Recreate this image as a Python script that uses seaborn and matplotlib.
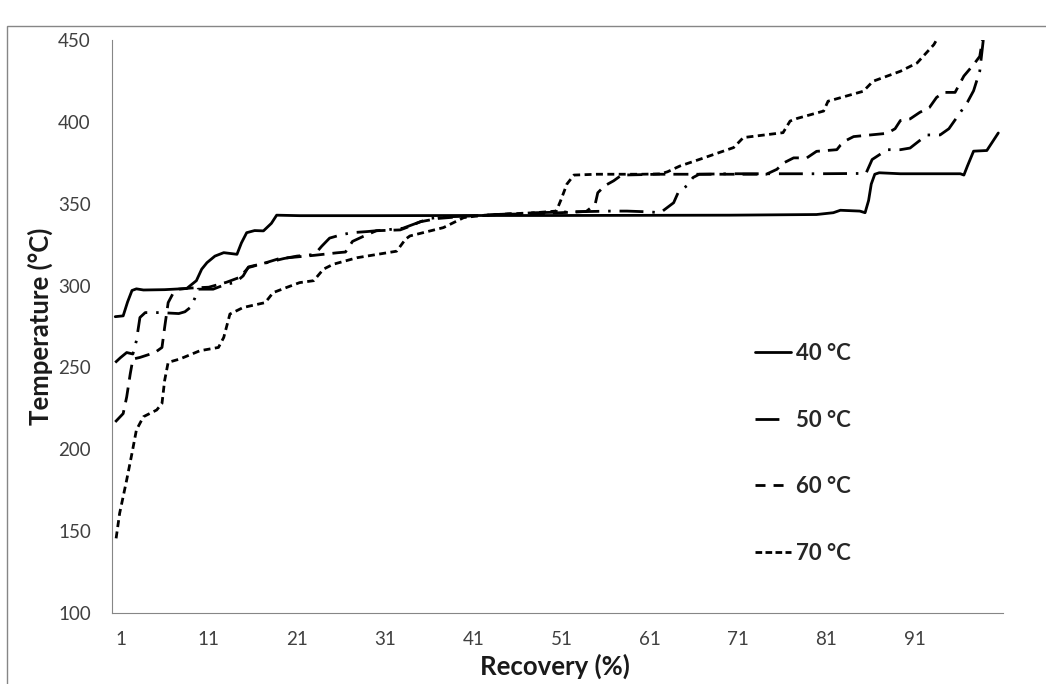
import pandas as pd
import matplotlib.pyplot as plt
import seaborn as sns
from matplotlib.patches import Rectangle
from matplotlib.lines import Line2D

sns.set_style("white")
plt.rcParams['font.family'] = ['Lato', 'DejaVu Sans']

# Readings: recovery position (category units) and temperature
x_40 = [0.4, 1.3, 1.8, 2.3, 2.8, 3.6, 6.0, 8.5, 9.6, 10.2, 10.8, 11.7, 12.7, 14.2, 14.7, 15.3,
        16.2, 17.2, 18.1, 18.7, 21.3, 30, 40, 50, 60, 70, 79.9, 81.8, 82.6, 84.8, 85.4, 85.8,
        86.1, 86.5, 87.0, 89.4, 96.2, 96.6, 97.0, 97.7, 99.2, 100.5]
t_40 = [281, 281.5, 290, 297, 298, 297.3, 297.5, 298.2, 303, 310, 314, 318, 320.1, 319.1, 326, 332.3,
        333.6, 333.4, 338, 343, 342.7, 342.7, 342.8, 342.8, 342.9, 343, 343.4, 344.5, 346, 345.5, 344.5, 352,
        362, 368, 368.9, 368.3, 368.3, 367.5, 373, 382.1, 382.5, 393.2]

x_50 = [0.4, 1.0, 1.7, 2.4, 2.8, 3.2, 3.8, 5.5, 7.6, 8.3, 8.9, 9.4, 9.8, 11.5, 13.0, 14.0,
        14.9, 15.5, 17.6, 19.5, 21.0, 23.0, 23.8, 24.7, 26.0, 27.2, 29, 31, 33, 34.5, 36, 38,
        41, 44, 48, 52, 56.5, 58.4, 61, 62.2, 63.7, 64.2, 65.2, 65.9, 66.6, 70, 75, 80,
        85.5, 86.2, 87.9, 89.4, 90.5, 92.4, 93.9, 94.9, 96.2, 97.0, 97.7, 98.4, 98.8]
t_50 = [253, 256, 259.1, 258.2, 266.3, 280.5, 283.5, 283.5, 282.9, 284, 286.6, 292, 297.8, 297.8, 300.9, 301.8,
        305.9, 311.4, 314, 316.5, 318, 319, 324, 329, 331, 332.3, 333, 334, 335, 338, 341, 342,
        342.5, 343.5, 344.5, 345, 345.5, 345.5, 345, 344.5, 350.6, 356.7, 361, 366, 368, 368.3, 368.3, 368.3,
        368.5, 377, 383, 383, 384, 392, 392, 395.8, 405.8, 412, 419, 431, 450]

x_60 = [0.4, 1.3, 1.7, 2.1, 2.4, 3.2, 4.9, 5.7, 6.0, 6.4, 7.0, 7.6, 9.0, 11.0, 13.0, 14.5,
        15.5, 17.5, 19.0, 21.0, 23.0, 25.5, 26.5, 27.3, 28.5, 30.0, 32.7, 33.4, 35, 37, 40, 44,
        49, 52.7, 53.8, 54.8, 55.1, 55.9, 56.9, 57.8, 62, 70, 74.2, 75.4, 76.2, 77.3, 78.8, 79.9,
        82.2, 82.6, 83.3, 84.1, 87.9, 88.8, 89.4, 90.5, 91.6, 92.7, 93.5, 94.3, 95.6, 96.2, 96.6,
        97.7, 98.4, 98.7]
t_60 = [216.7, 221.8, 232, 246, 255.1, 256.1, 259.1, 262.2, 274.4, 289.6, 295.7, 297.8, 298.5, 299, 302, 305,
        311, 314, 316.5, 317.5, 318.5, 320, 320.5, 327, 330, 333.5, 334, 335.4, 339, 341, 342.3, 343.5,
        344, 345, 345.3, 349.6, 356.7, 361, 364, 367.5, 368, 368, 368, 371, 375, 378, 378, 382,
        383, 385.7, 388.8, 391, 393, 395.8, 400.8, 401.8, 405.8, 408.8, 414.9, 418, 418, 424, 428,
        435, 440, 450]

x_70 = [0.5, 0.9, 1.7, 2.3, 2.8, 3.6, 5.1, 5.7, 6.0, 6.4, 7.7, 10.0, 12.1, 12.7, 13.4, 14.9,
        17.4, 18.3, 19.8, 21.3, 22.9, 24.0, 25.1, 27.8, 32.3, 33.3, 33.8, 37.6, 39.9, 41.4, 44, 48,
        50.4, 50.9, 51.6, 52.4, 55, 60, 62.2, 63.0, 64.4, 66.7, 70.5, 71.6, 76.1, 76.9, 77.7, 80.7,
        81.2, 85.2, 86.3, 89.4, 91.3, 93.2, 93.5]
t_70 = [145.6, 160.9, 181.3, 197.6, 211.8, 219.9, 224, 228, 242, 253.1, 255.1, 260.2, 262.2, 268.3, 282.6, 286.6,
        289.6, 295.7, 298.8, 301.8, 303, 310, 313, 317, 321, 328.3, 330.3, 335.4, 341.5, 342.5, 343.5, 344.5,
        345.5, 352, 362, 367.5, 368, 368, 368.2, 369.5, 373, 377.2, 384.3, 390.4, 393.4, 400.5, 402.1, 406.6,
        412.6, 418.7, 424.8, 430.9, 436, 447.2, 450]

series = ["40 °C", "50 °C", "60 °C", "70 °C"]
x_tick_labels = ["1", "11", "21", "31", "41", "51", "61", "71", "81", "91"]

# dash patterns (in units of line width), Excel-like styles
line_dashes = {"40 °C": "", "50 °C": (8.6, 3.2, 0.9, 3.2), "60 °C": (5.4, 2.9), "70 °C": (2.5, 1.6)}
# the legend sample only shows the first long dash of the dash-dot style
legend_dashes = {"40 °C": "", "50 °C": (8.6, 20), "60 °C": (3.6, 2.9), "70 °C": (2.4, 1.2)}

frames = []
for name, xs, ts in zip(series, [x_40, x_50, x_60, x_70], [t_40, t_50, t_60, t_70]):
    frames.append(pd.DataFrame({"recovery": xs, "temp": ts, "run": name}))
df = pd.concat(frames, ignore_index=True)

fig = plt.figure(figsize=(10.46, 6.84), dpi=100)
ax = fig.add_axes([111.7 / 1046, 71 / 684, 891 / 1046, 573 / 684])

sns.lineplot(data=df, x="recovery", y="temp", style="run", style_order=series,
             dashes=line_dashes, color="black", lw=2, estimator=None, sort=False,
             legend=False, ax=ax)

ax.set_xlim(0, 101)
ax.set_ylim(100, 450)
ticks = list(range(1, 102, 5))
ax.set_xticks(ticks)
ax.set_xticklabels([str(t) if str(t) in x_tick_labels else "" for t in ticks])
ax.set_yticks(range(100, 451, 50))

for side in ["top", "right"]:
    ax.spines[side].set_visible(False)
for side in ["left", "bottom"]:
    ax.spines[side].set_color("#868686")
    ax.spines[side].set_linewidth(0.8)

ax.tick_params(axis="both", direction="out", length=5, width=0.8, color="#868686",
               labelsize=13.5, labelcolor="#404040")
ax.tick_params(axis="y", pad=10)
ax.tick_params(axis="x", pad=8)

ax.set_xlabel("Recovery (%)", fontsize=18.5, fontweight="bold", color="#1a1a1a")
ax.set_ylabel("Temperature (°C)", fontsize=18.5, fontweight="bold", color="#1a1a1a")
ax.xaxis.set_label_coords(0.4975, -0.0925)
ax.xaxis.label.set_va("center")
ax.yaxis.set_label_coords(-0.0805, 0.5)
ax.yaxis.label.set_va("center")

handles = []
for name in series:
    d = legend_dashes[name]
    ls = "-" if d == "" else (0, d)
    handles.append(Line2D([], [], color="black", lw=2, linestyle=ls))
leg = ax.legend(handles, series, loc="center left", frameon=False,
                bbox_to_anchor=(755 / 1046, 1 - 453.5 / 684), bbox_transform=fig.transFigure,
                borderpad=0, borderaxespad=0, handlelength=1.6, handletextpad=0.25,
                labelspacing=2.05, prop={"size": 16, "weight": "bold"})

# chart-area frame (cut off on the right and bottom like the original)
fig.add_artist(Rectangle((7 / 1046, -0.1), 1.2, 1 - 26 / 684 + 0.1, transform=fig.transFigure,
                         fill=False, edgecolor="#868686", lw=1))

fig.savefig("out.png", dpi=100)
